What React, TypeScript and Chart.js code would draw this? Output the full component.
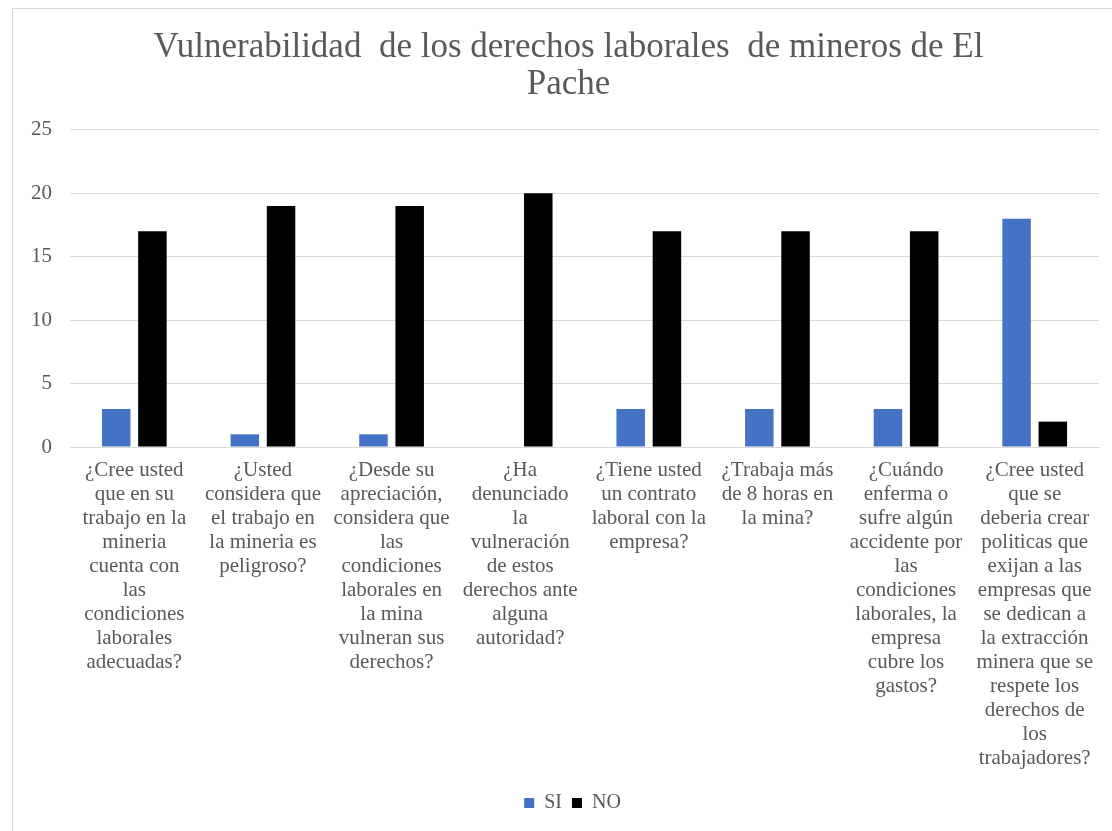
import React, { useEffect, useRef } from "react";
import { Chart, registerables } from "chart.js";

Chart.register(...registerables);

const titleLines = [
  "Vulnerabilidad  de los derechos laborales  de mineros de El",
  "Pache",
];

const categories: string[][] = [
  ["¿Cree usted", "que en su", "trabajo en la", "mineria", "cuenta con", "las", "condiciones", "laborales", "adecuadas?"],
  ["¿Usted", "considera que", "el trabajo en", "la mineria es", "peligroso?"],
  ["¿Desde su", "apreciación,", "considera que", "las", "condiciones", "laborales en", "la mina", "vulneran sus", "derechos?"],
  ["¿Ha", "denunciado", "la", "vulneración", "de estos", "derechos ante", "alguna", "autoridad?"],
  ["¿Tiene usted", "un contrato", "laboral con la", "empresa?"],
  ["¿Trabaja más", "de 8 horas en", "la mina?"],
  ["¿Cuándo", "enferma o", "sufre algún", "accidente por", "las", "condiciones", "laborales, la", "empresa", "cubre los", "gastos?"],
  ["¿Cree usted", "que se", "deberia crear", "politicas que", "exijan a las", "empresas que", "se dedican a", "la extracción", "minera que se", "respete los", "derechos de", "los", "trabajadores?"],
];

const siValues = [3, 1, 1, 0, 3, 3, 3, 18];
const noValues = [17, 19, 19, 20, 17, 17, 17, 2];

const seriesLabels = ["SI", "NO"];
const seriesColors = ["#4472C4", "#000000"];

const FONT = "'Liberation Serif', 'Times New Roman', serif";
const TEXT = "#595959";
const GRID = "#d9d9d9";

// Shift the centred title and legend boxes to match the reference's centring
const boxShift = {
  id: "boxShift",
  afterLayout(chart: any) {
    if (chart.titleBlock) chart.titleBlock.left += 25;
    if (chart.legend) chart.legend.left += 33;
  },
};

export default function App() {
  const ref = useRef<HTMLCanvasElement | null>(null);

  useEffect(() => {
    if (!ref.current) return;
    const chart = new Chart(ref.current, {
      type: "bar",
      data: {
        labels: categories,
        datasets: [
          {
            label: seriesLabels[0],
            data: siValues,
            backgroundColor: seriesColors[0],
            categoryPercentage: 0.563,
            barPercentage: 0.787,
          },
          {
            label: seriesLabels[1],
            data: noValues,
            backgroundColor: seriesColors[1],
            categoryPercentage: 0.563,
            barPercentage: 0.787,
          },
        ],
      },
      plugins: [boxShift],
      options: {
        animation: false,
        responsive: false,
        devicePixelRatio: 1,
        layout: { padding: { left: 0, right: 13, top: 0, bottom: 8 } },
        plugins: {
          title: {
            display: true,
            text: titleLines,
            color: TEXT,
            font: { family: FONT, size: 35, weight: "normal", lineHeight: 1.07 },
            padding: { top: 20, bottom: 26 },
          },
          legend: {
            position: "bottom",
            labels: {
              color: TEXT,
              font: { family: FONT, size: 20 },
              boxWidth: 10,
              boxHeight: 10,
              padding: 10,
            },
          },
          tooltip: { enabled: false },
        },
        scales: {
          x: {
            grid: { display: false, drawTicks: false },
            border: { display: true, color: GRID, width: 1 },
            ticks: {
              color: TEXT,
              font: { family: FONT, size: 21, lineHeight: 1.143 },
              padding: 11,
              maxRotation: 0,
              minRotation: 0,
              autoSkip: false,
            },
            afterFit: (scale: any) => {
              scale.height = 336;
            },
          },
          y: {
            min: 0,
            max: 25,
            ticks: {
              stepSize: 5,
              color: TEXT,
              font: { family: FONT, size: 21 },
              padding: 18,
            },
            grid: { color: GRID, drawTicks: false },
            border: { display: false },
            afterFit: (scale: any) => {
              scale.width = 57;
            },
          },
        },
      },
    });
    return () => chart.destroy();
  }, []);

  return (
    <div
      style={{
        position: "absolute",
        left: 12,
        top: 8,
        width: 1100,
        height: 823,
        borderLeft: `1px solid ${GRID}`,
        borderTop: `1px solid ${GRID}`,
        background: "#fff",
        overflow: "hidden",
      }}
    >
      <canvas ref={ref} width={1099} height={822} style={{ display: "block" }} />
    </div>
  );
}
